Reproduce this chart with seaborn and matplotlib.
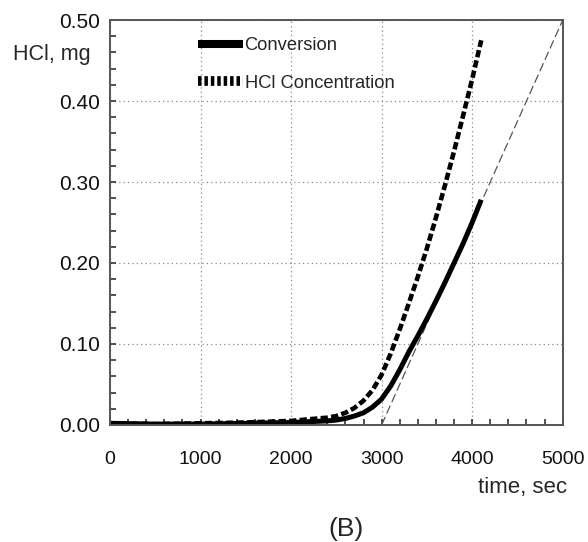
import matplotlib
matplotlib.use("Agg")
import matplotlib.pyplot as plt
import seaborn as sns
import pandas as pd
from matplotlib.ticker import MultipleLocator
from matplotlib.lines import Line2D

time_sec = [0, 500, 1000, 1500, 2000, 2200, 2400, 2500, 2600, 2700, 2800, 2900,
            3000, 3100, 3200, 3300, 3400, 3500, 3600, 3700, 3800, 3900, 4000, 4100]
conversion = [0.002, 0.001, 0.001, 0.002, 0.003, 0.004, 0.005, 0.006, 0.008, 0.011,
              0.015, 0.022, 0.032, 0.048, 0.068, 0.090, 0.110, 0.131, 0.153, 0.176,
              0.200, 0.224, 0.250, 0.278]
hcl_conc = [0.002, 0.001, 0.002, 0.003, 0.005, 0.007, 0.009, 0.011, 0.015, 0.021,
            0.030, 0.043, 0.062, 0.088, 0.118, 0.150, 0.183, 0.218, 0.256, 0.296,
            0.338, 0.382, 0.427, 0.475]
tangent_t = [3000, 5000]
tangent_v = [0.0, 0.5]

df = pd.DataFrame({"t": time_sec, "conv": conversion, "hcl": hcl_conc})
tan_df = pd.DataFrame({"t": tangent_t, "v": tangent_v})

sns.set_style("white")
plt.rcParams["font.family"] = ["Liberation Sans", "DejaVu Sans"]

fig = plt.figure(figsize=(5.88, 5.42), dpi=100)
ax = fig.add_axes([0.187, 0.216, 0.770, 0.747])

sns.lineplot(data=tan_df, x="t", y="v", ax=ax, color="#555555", lw=0.9,
             linestyle=(0, (7, 3)))
sns.lineplot(data=df, x="t", y="hcl", ax=ax, color="black", lw=3.3,
             linestyle=(0, (1.6, 0.7)))
sns.lineplot(data=df, x="t", y="conv", ax=ax, color="black", lw=3.6,
             solid_capstyle="butt")

ax.set_xlim(0, 5000)
ax.set_ylim(0, 0.5)
ax.set_yticks([0, 0.1, 0.2, 0.3, 0.4, 0.5])
ax.set_yticklabels(["0.00", "0.10", "0.20", "0.30", "0.40", "0.50"])
ax.set_xticks([0, 1000, 2000, 3000, 4000, 5000])
ax.set_xticklabels(["0", "1000", "2000", "3000", "4000", "5000"])
ax.xaxis.set_minor_locator(MultipleLocator(200))
ax.yaxis.set_minor_locator(MultipleLocator(0.02))
ax.tick_params(axis="both", which="both", direction="in", length=4.5, width=1.2,
               color="#333333", labelcolor="#111111", bottom=True, left=True,
               top=False, right=False)
ax.tick_params(axis="x", which="major", labelsize=14, pad=19)
ax.tick_params(axis="y", which="major", labelsize=15, pad=7)
ax.grid(True, which="major", linestyle=(0, (1, 2.5)), color="#888888", lw=0.9)
for s in ax.spines.values():
    s.set_color("#555555")
    s.set_linewidth(1.4)

ax.set_xlabel("")
ax.set_ylabel("")
fig.text(13 / 588, 1 - 60 / 542, "HCl, mg", fontsize=15.5, ha="left", va="baseline")
fig.text(567 / 588, 1 - 488 / 542, "time, sec", fontsize=16, ha="right", va="center")
fig.text(346 / 588, 1 - 529 / 542, "(B)", fontsize=19, ha="center", va="center")

handles = [Line2D([0], [0], color="black", lw=5.8, solid_capstyle="butt"),
           Line2D([0], [0], color="black", lw=7, linestyle=(0, (0.36, 0.3)))]
ax.legend(handles, ["Conversion", "HCl Concentration"], loc="upper left",
          bbox_to_anchor=(0.194, 0.958), frameon=False, fontsize=13.2,
          handlelength=2.45, handletextpad=0.1, labelspacing=1.12,
          borderpad=0, borderaxespad=0)

fig.savefig("out.png", dpi=100)
